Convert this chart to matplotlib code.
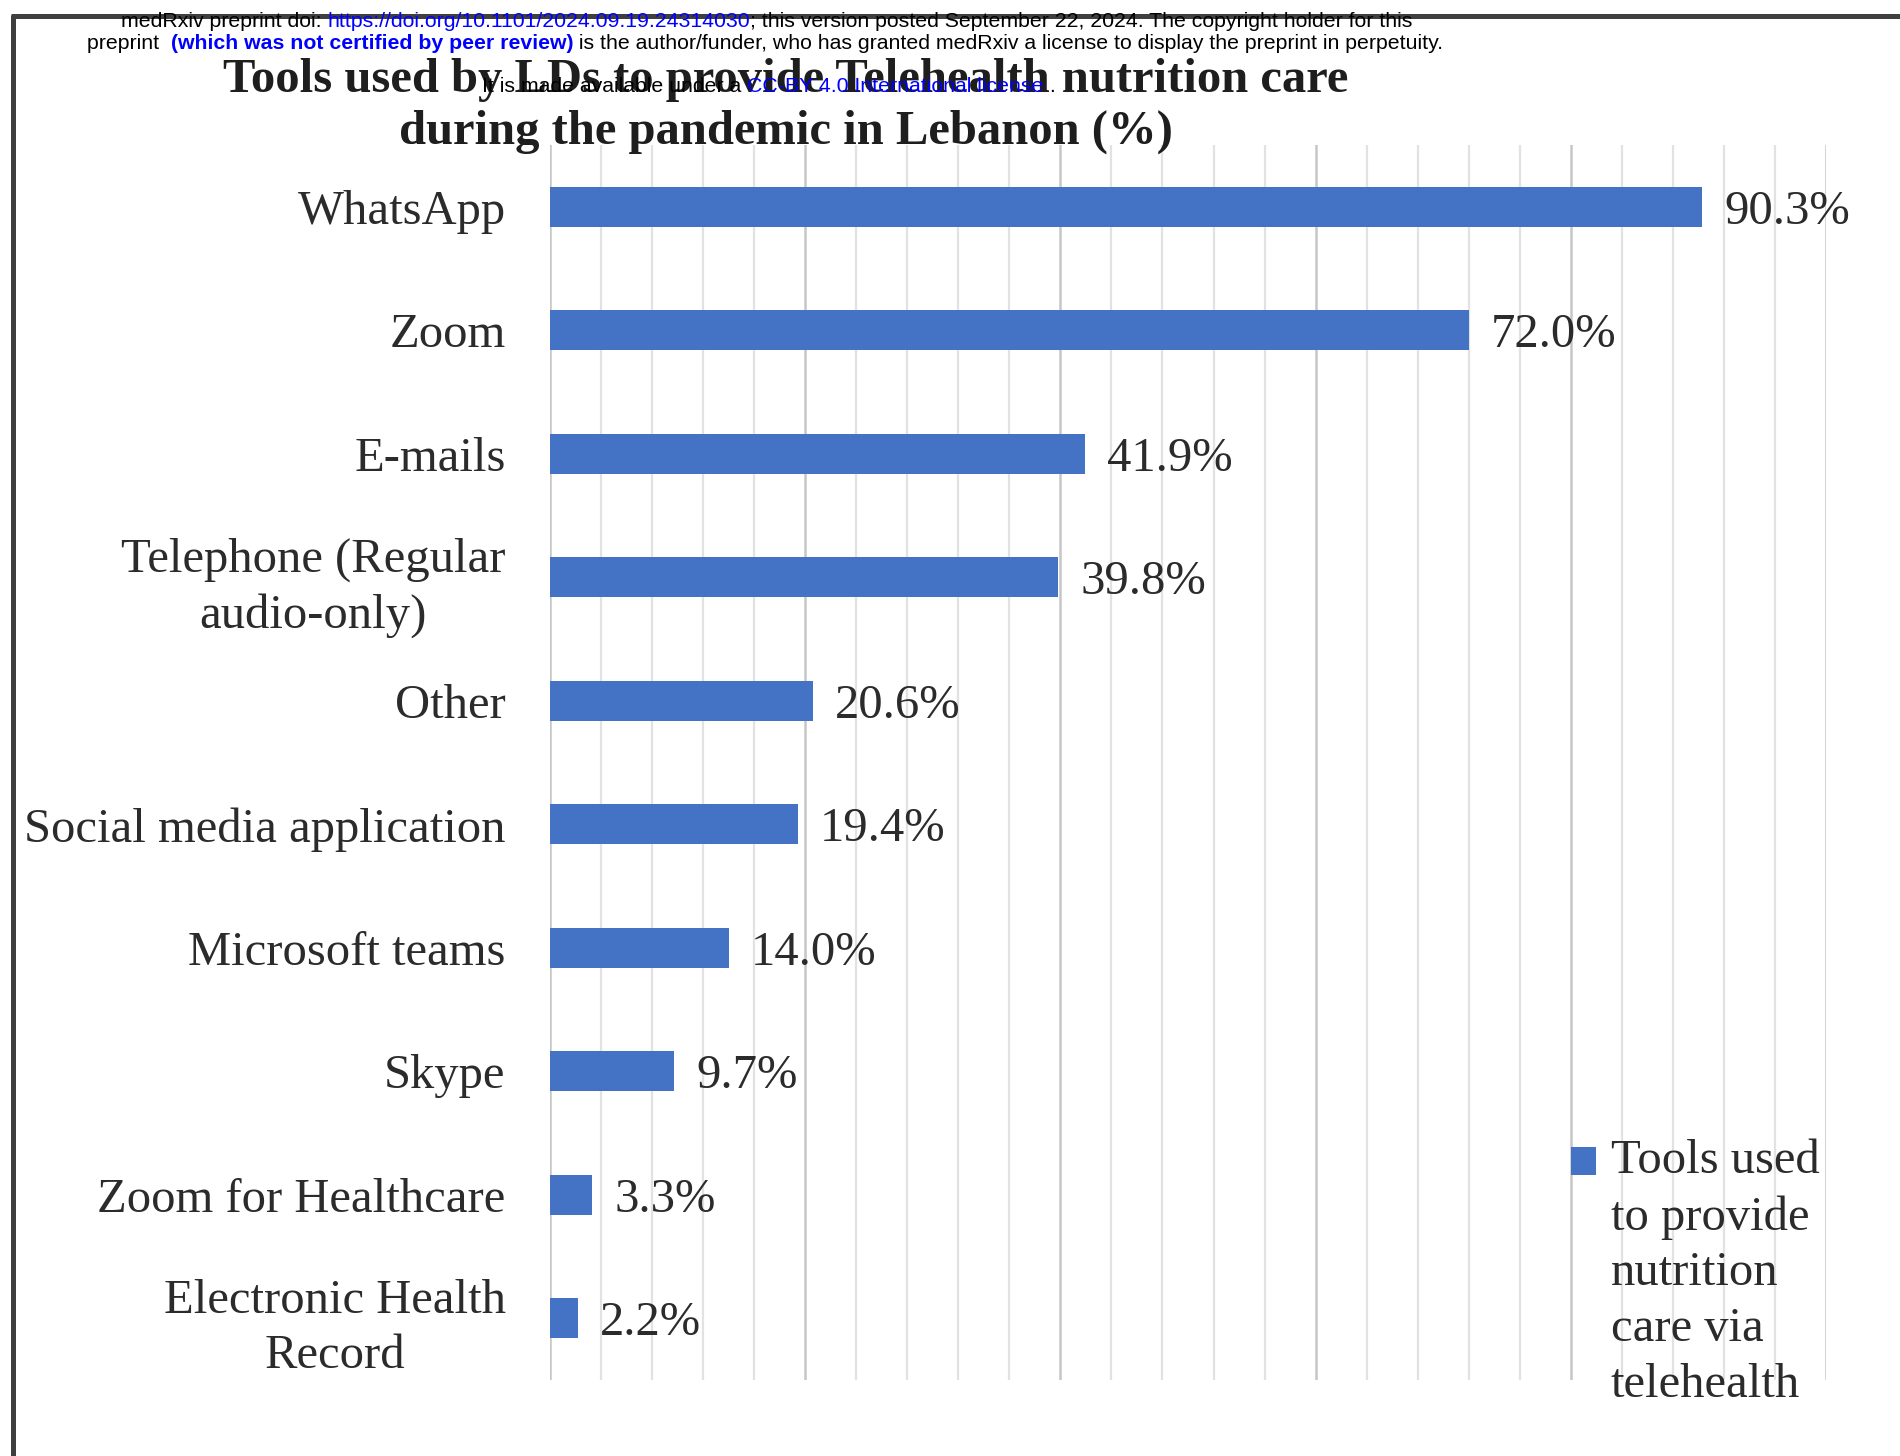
import numpy as np
import matplotlib
matplotlib.use("Agg")
import matplotlib.pyplot as plt
from matplotlib.lines import Line2D

# ---------------- data ----------------
categories = [
    "WhatsApp",
    "Zoom",
    "E-mails",
    "Telephone (Regular\naudio-only)",
    "Other",
    "Social media application",
    "Microsoft teams",
    "Skype",
    "Zoom for Healthcare",
    "Electronic Health\nRecord",
]
values = [90.3, 72.0, 41.9, 39.8, 20.6, 19.4, 14.0, 9.7, 3.3, 2.2]
value_labels = [f"{v:.1f}%" for v in values]
series_name = "Tools used\nto provide\nnutrition\ncare via\ntelehealth"
title = "Tools used by LDs to provide Telehealth nutrition care\nduring the pandemic in Lebanon (%)"
x_max = 100
minor_step = 4
major_step = 20

header_lines = [
    (121, 27, [("medRxiv preprint doi: ", "black", "normal"),
               ("https://doi.org/10.1101/2024.09.19.24314030", "#0000ff", "normal"),
               ("; this version posted September 22, 2024. The copyright holder for this", "black", "normal")]),
    (87, 49, [("preprint  ", "black", "normal"),
              ("(which was not certified by peer review)", "#0000ff", "bold"),
              (" is the author/funder, who has granted medRxiv a license to display the preprint in perpetuity.", "black", "normal")]),
    (482, 92, [("It is made available under a ", "black", "normal"),
               ("CC-BY 4.0 International license", "#0000ff", "normal"),
               (" .", "black", "normal")]),
]

# ---------------- figure ----------------
W, H, DPI = 1900, 1456, 100
fig = plt.figure(figsize=(W / DPI, H / DPI), dpi=DPI)
fig.patch.set_facecolor("white")
SERIF = ["Liberation Serif", "DejaVu Serif"]
SANS = ["Liberation Sans", "DejaVu Sans"]
TXT = "#2b2b2b"
BLUE = "#4472C4"
FS = 35
HFS = 15.3


def fx(px):
    return px / W


def fy(py):
    return 1 - py / H


ax = fig.add_axes([fx(550), fy(1380), fx(1826) - fx(550), fy(145) - fy(1380)])
ypos = np.arange(len(categories))
bars = ax.barh(ypos, values, height=0.32, color=BLUE, label=series_name, zorder=3)
ax.set_xlim(0, x_max)
ax.set_ylim(len(categories) - 0.5, -0.5)
ax.set_yticks(ypos)
ax.set_yticklabels(categories, fontsize=FS, family=SERIF, color=TXT)
for t in ax.get_yticklabels():
    t.set_multialignment("center")
    t.set_linespacing(1.32)
ax.tick_params(axis="y", length=0, pad=32)
ax.set_xticks(np.arange(0, x_max + 0.01, major_step))
ax.set_xticks(np.arange(0, x_max + 0.01, minor_step), minor=True)
ax.tick_params(axis="x", which="both", length=0, labelbottom=False)
ax.grid(axis="x", which="major", color="#c6c6c6", lw=1.8, zorder=0)
ax.grid(axis="x", which="minor", color="#e2e2e2", lw=1.6, zorder=0)
ax.set_axisbelow(True)
for s in ax.spines.values():
    s.set_visible(False)
vlabels = ax.bar_label(bars, labels=value_labels, padding=16, fontsize=FS,
                       family=SERIF, color=TXT)
for t in vlabels:
    t.set_va("center_baseline")

# legend
leg = ax.legend(handles=[bars], labels=[series_name], loc="upper left",
                bbox_to_anchor=(fx(1571), fy(1139)), bbox_transform=fig.transFigure,
                frameon=False, prop={"family": SERIF, "size": FS},
                handlelength=0.52, handleheight=0.52, handletextpad=0.3,
                borderpad=0, borderaxespad=0)
for t in leg.get_texts():
    t.set_color(TXT)
    t.set_linespacing(1.35)

# title
fig.text(fx(786), fy(106), title, ha="center", va="center", fontsize=FS,
         fontweight="bold", family=SERIF, color="#1e1e1e", linespacing=1.2)

# frame lines
fig.add_artist(Line2D([fx(13), fx(13)], [fy(15), 0], transform=fig.transFigure,
                      color="#3f3f3f", lw=3.6, solid_capstyle="butt"))
fig.add_artist(Line2D([fx(11), 1], [fy(16), fy(16)], transform=fig.transFigure,
                      color="#3f3f3f", lw=3.6, solid_capstyle="butt"))

# header text
renderer = fig.canvas.get_renderer()


def text_width(s, weight):
    a = fig.text(0, 0, s + "|", fontsize=HFS, family=SANS, fontweight=weight)
    b = fig.text(0, 0, "|", fontsize=HFS, family=SANS, fontweight=weight)
    w = a.get_window_extent(renderer).width - b.get_window_extent(renderer).width
    a.remove()
    b.remove()
    return w


for x0, base, pieces in header_lines:
    x = x0
    for s, col, wt in pieces:
        fig.text(fx(x), fy(base), s, fontsize=HFS, family=SANS, fontweight=wt,
                 color=col, ha="left", va="baseline")
        x += text_width(s, wt)

# align legend marker with first text line
fig.canvas.draw()
renderer = fig.canvas.get_renderer()
ltxt = leg.get_texts()[0]
h_all = ltxt.get_window_extent(renderer).height
probe = fig.text(0, 0, "Tools used", fontsize=FS, family=SERIF)
h_one = probe.get_window_extent(renderer).height
probe.remove()
shift_pt = (h_all - h_one) / 2 * 72 / DPI
hnd = leg.legend_handles[0]
hnd.set_y(hnd.get_y() + shift_pt)

fig.savefig("out.png", dpi=DPI, facecolor="white")
